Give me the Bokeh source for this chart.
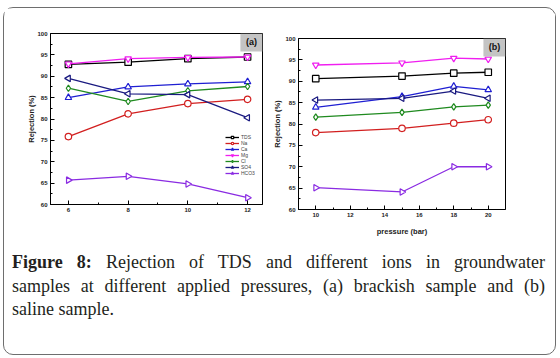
import math
from bokeh.plotting import figure
from bokeh.layouts import row, column
from bokeh.models import Div, BoxAnnotation, Label, Legend, LegendItem, FixedTicker, Range1d
from bokeh.embed import file_html
from bokeh.resources import INLINE

# ---- data ----
series = ["TDS", "Na", "Ca", "Mg", "Cl", "SO4", "HCO3"]
colors = ["#000000", "#d21f1f", "#1f1fd2", "#f01ef0", "#1f8a1f", "#1a1a80", "#8a2be2"]
markers = ["square", "circle", "triangle", "inverted_triangle", "diamond", "triangle", "triangle"]
marker_angles = [0, 0, 0, 0, 0, math.pi / 2, -math.pi / 2]

pressure_a = [6, 8, 10, 12]
tds_a = [92.8, 93.3, 94.1, 94.5]
na_a = [75.9, 81.2, 83.6, 84.6]
ca_a = [85.0, 87.5, 88.2, 88.7]
mg_a = [92.9, 94.1, 94.4, 94.5]
cl_a = [87.2, 84.1, 86.6, 87.6]
so4_a = [89.5, 85.9, 85.7, 80.3]
hco3_a = [65.7, 66.6, 64.8, 61.6]

pressure_b = [10, 15, 18, 20]
tds_b = [90.6, 91.2, 91.9, 92.1]
na_b = [78.0, 79.0, 80.2, 81.0]
ca_b = [83.9, 86.4, 88.8, 88.0]
mg_b = [93.8, 94.3, 95.4, 95.2]
cl_b = [81.6, 82.7, 84.0, 84.4]
so4_b = [85.6, 86.0, 87.7, 86.0]
hco3_b = [65.1, 64.1, 70.0, 70.0]

values_a = [tds_a, na_a, ca_a, mg_a, cl_a, so4_a, hco3_a]
values_b = [tds_b, na_b, ca_b, mg_b, cl_b, so4_b, hco3_b]

y_ticks = [60, 65, 70, 75, 80, 85, 90, 95, 100]
x_ticks_a = [6, 8, 10, 12]
x_ticks_b = [10, 12, 14, 16, 18, 20]

FONT = "Liberation Sans"


def style_axes(p, xticks, ylabel_standoff):
    for ax in (p.xaxis[0], p.yaxis[0]):
        ax.axis_line_color = "black"
        ax.axis_line_width = 1
        ax.major_tick_in = 4
        ax.major_tick_out = 0
        ax.minor_tick_in = 2
        ax.minor_tick_out = 0
        ax.major_tick_line_color = "black"
        ax.minor_tick_line_color = "black"
        ax.major_label_text_font = FONT
        ax.major_label_text_font_size = "6px"
        ax.major_label_text_font_style = "bold"
        ax.major_label_text_color = "#222222"
        ax.major_label_standoff = 3
        ax.axis_label_text_font = FONT
        ax.axis_label_text_font_size = "7.5px"
        ax.axis_label_text_font_style = "bold"
        ax.axis_label_text_color = "#222222"
    p.yaxis[0].ticker = FixedTicker(ticks=y_ticks, minor_ticks=[v + 2.5 for v in y_ticks[:-1]])
    p.xaxis[0].ticker = FixedTicker(ticks=xticks, minor_ticks=[v + 1 for v in xticks[:-1]])
    p.yaxis[0].axis_label = "Rejection (%)"
    p.yaxis[0].axis_label_standoff = ylabel_standoff
    p.xgrid.visible = False
    p.ygrid.visible = False
    p.outline_line_color = "black"
    p.outline_line_width = 1
    p.outline_line_alpha = 1


def make_fig(width, height, xr, left, right, top, bottom):
    p = figure(width=width, height=height, x_range=Range1d(*xr), y_range=Range1d(60, 100),
               title=None, output_backend="svg", toolbar_location=None,
               min_border_left=left, min_border_right=right,
               min_border_top=top, min_border_bottom=bottom)
    p.background_fill_color = "white"
    p.border_fill_color = "white"
    return p


def draw(p, xs, vals):
    renderers = []
    for name, ys, c, m, ang in zip(series, vals, colors, markers, marker_angles):
        r1 = p.line(xs, ys, line_color=c, line_width=1.3)
        r2 = p.scatter(xs, ys, marker=m, angle=ang, size=6.5, line_color=c, line_width=1.2,
                       fill_color="white", fill_alpha=1)
        renderers.append((name, [r1, r2]))
    return renderers


def tag(p, text, x0, x1, y0, y1):
    p.add_layout(BoxAnnotation(left=x0, right=x1, bottom=y0, top=y1,
                               fill_color="#c4c4c4", fill_alpha=1, line_alpha=0))
    p.add_layout(Label(x=(x0 + x1) / 2, y=(y0 + y1) / 2, text=text, text_align="center",
                       text_baseline="middle", text_font=FONT, text_font_size="9px",
                       text_font_style="bold", text_color="#111111"))


xa = (5.4, 12.5)
xb = (9.0, 21.0)

fa = make_fig(264, 234, xa, 46, 6, 25, 38)
style_axes(fa, x_ticks_a, -2)
items = draw(fa, pressure_a, values_a)
tag(fa, "(a)", xa[1] - 0.74, xa[1], 95.8, 100)
legend = Legend(items=[LegendItem(label=n, renderers=r) for n, r in items],
                location=(175, 28), label_text_font=FONT, label_text_font_size="5px",
                label_height=6, glyph_height=6, glyph_width=14, spacing=0, padding=0, margin=0,
                label_standoff=2, background_fill_alpha=0, border_line_alpha=0)
fa.add_layout(legend)

fb = make_fig(287, 234, xb, 30, 50, 25, 38)
fb.margin = (5, 0, 0, 0)
style_axes(fb, x_ticks_b, 0)
fb.xaxis[0].axis_label = "pressure (bar)"
fb.xaxis[0].axis_label_standoff = 7
draw(fb, pressure_b, values_b)
tag(fb, "(b)", xb[1] - 1.28, xb[1], 95.8, 100)

line_style = "text-align:justify;text-align-last:justify;white-space:nowrap;"
caption_html = (
    "<div style=\"box-sizing:border-box;font-family:'Liberation Serif',serif;font-size:18px;"
    "line-height:23.5px;color:#231f20;padding:4px 10px 0 8px;width:551px;\">"
    f"<div style='{line_style}'><b>Figure 8:</b> Rejection of TDS and different ions in groundwater</div>"
    f"<div style='{line_style}'>samples at different applied pressures, (a) brackish sample and (b)</div>"
    "<div>saline sample.</div>"
    "</div>"
)
cap = Div(text=caption_html, width=551, height=107, margin=0)

layout = column(row(fa, fb), cap,
                styles={"border": "1px solid #6e6e6e", "border-radius": "10px", "background": "white"},
                margin=(7, 0, 0, 3))

open("out.html", "w").write(file_html(layout, INLINE))
